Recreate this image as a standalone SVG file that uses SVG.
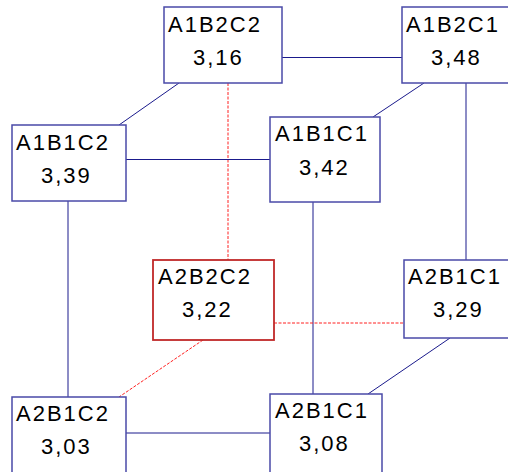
<svg xmlns="http://www.w3.org/2000/svg" width="508" height="472" viewBox="0 0 508 472">
<style>
.box{fill:#fff;stroke:#4a4aa8;stroke-width:1.5}
.hl{fill:#fff;stroke:#c02828;stroke-width:1.8}
.lbl{font-family:"Liberation Sans",Arial,sans-serif;font-size:22px;letter-spacing:2px;fill:#000}
.e{stroke:#1a1a8c;stroke-width:1;fill:none}
.r{stroke:#ff2020;stroke-width:1;fill:none;stroke-dasharray:3,1.5}
</style>
<rect width="508" height="472" fill="#fff"/>
<g id="connectors">
<line class="e" x1="282" y1="57.5" x2="402" y2="57.5"/>
<line class="e" x1="179" y1="83" x2="119" y2="125"/>
<line class="r" x1="228" y1="83" x2="228" y2="260"/>
<line class="e" x1="126" y1="159.5" x2="270" y2="159.5"/>
<line class="e" x1="424" y1="83" x2="373" y2="117"/>
<line class="e" x1="466" y1="83" x2="466" y2="260"/>
<line class="e" x1="313" y1="202" x2="313" y2="394"/>
<line class="e" x1="68" y1="201" x2="68" y2="397"/>
<line class="r" x1="274" y1="323" x2="404" y2="323"/>
<line class="r" x1="203" y1="340" x2="119" y2="397"/>
<line class="e" x1="450" y1="338" x2="368" y2="394"/>
<line class="e" x1="126" y1="433" x2="270" y2="433"/>
</g>
<g id="A1B2C2"><rect class="box" x="164" y="7" width="118" height="76"/><text class="lbl" x="168" y="32">A1B2C2</text><text class="lbl" x="193" y="65">3,16</text></g>
<g id="A1B2C1"><rect class="box" x="402" y="7" width="118" height="76"/><text class="lbl" x="406" y="32">A1B2C1</text><text class="lbl" x="431" y="65">3,48</text></g>
<g id="A1B1C2"><rect class="box" x="12" y="125" width="114" height="76"/><text class="lbl" x="16" y="150">A1B1C2</text><text class="lbl" x="41" y="183">3,39</text></g>
<g id="A1B1C1"><rect class="box" x="270" y="117" width="110" height="85"/><text class="lbl" x="275" y="141">A1B1C1</text><text class="lbl" x="299" y="175">3,42</text></g>
<g id="A2B2C2"><rect class="hl" x="153" y="260" width="121" height="80"/><text class="lbl" x="158" y="284">A2B2C2</text><text class="lbl" x="182" y="317">3,22</text></g>
<g id="A2B1C1-right"><rect class="box" x="404" y="260" width="118" height="78"/><text class="lbl" x="408" y="284">A2B1C1</text><text class="lbl" x="433" y="317">3,29</text></g>
<g id="A2B1C2"><rect class="box" x="12" y="397" width="114" height="80"/><text class="lbl" x="16" y="421">A2B1C2</text><text class="lbl" x="41" y="454">3,03</text></g>
<g id="A2B1C1-bottom"><rect class="box" x="270" y="394" width="112" height="82"/><text class="lbl" x="275" y="418">A2B1C1</text><text class="lbl" x="299" y="451">3,08</text></g>
</svg>
